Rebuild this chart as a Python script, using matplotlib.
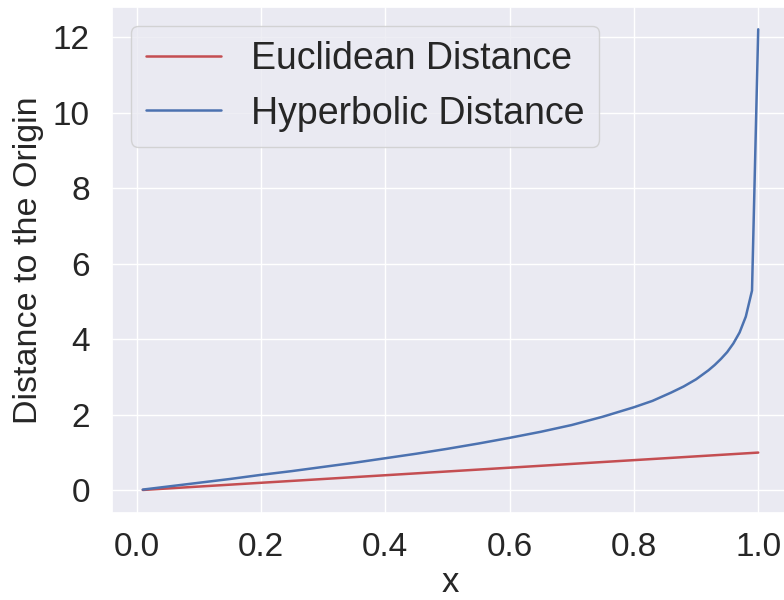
import matplotlib
matplotlib.use("Agg")
import matplotlib.pyplot as plt
import seaborn as sns

sns.set_theme(style="darkgrid", color_codes=True)
plt.rcParams["font.family"] = ["Liberation Sans", "DejaVu Sans"]

# Radius of the point along the axis
x_vals = [0.01, 0.05, 0.10, 0.15, 0.20, 0.25, 0.30, 0.35, 0.40, 0.45,
          0.50, 0.55, 0.60, 0.65, 0.70, 0.75, 0.80, 0.83, 0.86, 0.88,
          0.90, 0.92, 0.93, 0.94, 0.95, 0.96, 0.97, 0.98, 0.99, 1.00]

# Euclidean distance to the origin
euclid = [0.01, 0.05, 0.10, 0.15, 0.20, 0.25, 0.30, 0.35, 0.40, 0.45,
          0.50, 0.55, 0.60, 0.65, 0.70, 0.75, 0.80, 0.83, 0.86, 0.88,
          0.90, 0.92, 0.93, 0.94, 0.95, 0.96, 0.97, 0.98, 0.99, 1.00]

# Hyperbolic (Poincare) distance to the origin
hyper = [0.02, 0.10, 0.20, 0.30, 0.41, 0.51, 0.62, 0.73, 0.85, 0.97,
         1.10, 1.24, 1.39, 1.55, 1.73, 1.95, 2.20, 2.37, 2.59, 2.75,
         2.94, 3.18, 3.32, 3.48, 3.66, 3.89, 4.18, 4.60, 5.29, 12.21]

fig = plt.figure(figsize=(7.84, 6.0), dpi=100)
ax = fig.add_axes([112 / 784, 87 / 600, 677 / 784, 506 / 600])

ax.plot(x_vals, euclid, color="r", lw=1.8, label="Euclidean Distance")
ax.plot(x_vals, hyper, color="b", lw=1.8, label="Hyperbolic Distance")

ax.set_xlim(-0.0395, 1.0495)
ax.set_ylim(-0.6, 12.8)
ax.set_xticks([0.0, 0.2, 0.4, 0.6, 0.8, 1.0])
ax.set_yticks([0, 2, 4, 6, 8, 10, 12])
ax.tick_params(axis="y", labelsize=24, pad=10)
ax.tick_params(axis="x", labelsize=24, pad=8)
ax.set_xlabel("x", fontsize=25, labelpad=2)
ax.set_ylabel("Distance to the Origin", fontsize=24.5, labelpad=6)
ax.legend(loc="upper left", fontsize=27, handlelength=2.0)

fig.savefig("out.png", dpi=100)
